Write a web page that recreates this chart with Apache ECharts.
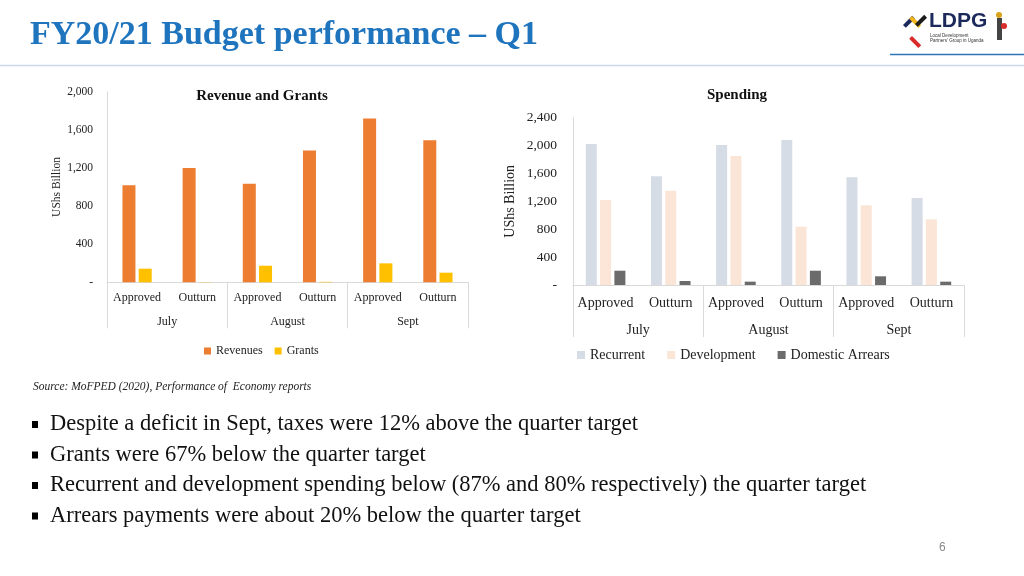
<!DOCTYPE html>
<html>
<head>
<meta charset="utf-8">
<script src="https://cdn.jsdelivr.net/npm/echarts@6/dist/echarts.min.js"></script>
<style>
html,body{margin:0;padding:0;background:#fff;}
#c{width:1024px;height:576px;}
</style>
</head>
<body>
<div id="c"></div>
<script>
// ---- Data ----
const subCategories = ['Approved','Outturn','Approved','Outturn','Approved','Outturn'];
const months = ['July','August','Sept'];
const revenues = [1018, 1200, 1035, 1382, 1718, 1491];
const grants = [143, 2, 174, 5, 199, 101];
const recurrent = [2023, 1559, 2008, 2080, 1545, 1248];
const development = [1219, 1353, 1851, 837, 1143, 942];
const arrears = [205, 57, 48, 205, 125, 48];
const leftTicks = {min:0, max:2000, interval:400};
const rightTicks = {min:0, max:2400, interval:400};
const bullets = [
  'Despite a deficit in Sept, taxes were 12% above the quarter target',
  'Grants were 67% below the quarter target',
  'Recurrent and development spending below (87% and 80% respectively) the quarter target',
  'Arrears payments were about 20% below the quarter target'
];

const SERIF = '"Liberation Serif","DejaVu Serif",serif';
const axisGray = '#D9D9D9';
const fmt = v => v === 0 ? '-' : v.toLocaleString('en-US');

const chart = echarts.init(document.getElementById('c'));

function yAx(grid, t, nameGap, fs, nfs, margin) {
  return {
    gridIndex: grid, type:'value', min:t.min, max:t.max, interval:t.interval,
    name:'UShs Billion', nameLocation:'middle', nameGap:nameGap, nameRotate:90,
    nameTextStyle:{fontFamily:SERIF, fontSize:nfs, color:'#222'},
    axisLine:{show:true, lineStyle:{color:axisGray}},
    axisTick:{show:false}, splitLine:{show:false},
    axisLabel:{formatter:fmt, fontFamily:SERIF, fontSize:fs, color:'#222', margin:margin}
  };
}
function xSub(grid, fs, margin) {
  return {
    gridIndex:grid, type:'category', data:subCategories, position:'bottom',
    axisLine:{show:true, lineStyle:{color:axisGray}},
    axisTick:{show:false},
    axisLabel:{fontFamily:SERIF, fontSize:fs, color:'#222', margin:margin, interval:0}
  };
}
function xMonth(grid, fs, tickLen, margin) {
  return {
    gridIndex:grid, type:'category', data:months, position:'bottom', offset:0,
    axisLine:{show:false},
    axisTick:{show:true, length:tickLen, lineStyle:{color:axisGray}},
    axisLabel:{fontFamily:SERIF, fontSize:fs, color:'#222', margin:margin, interval:0}
  };
}

const bulletGraphics = [];
bullets.forEach((b, i) => {
  const y = 426 + i * 30.5;
  bulletGraphics.push({type:'rect', shape:{x:32, y:y-5, width:6, height:7}, style:{fill:'#000'}});
  bulletGraphics.push({type:'text', left:50, top:y-13, style:{text:b, font:'22.5px ' + SERIF, fill:'#111'}});
});

const option = {
  backgroundColor:'#fff',
  animation:false,
  title:[
    {text:'Revenue and Grants', left:257, top:84, textAlign:'center',
     textStyle:{fontFamily:SERIF, fontSize:15, fontWeight:'bold', color:'#111'}},
    {text:'Spending', left:732, top:83, textAlign:'center',
     textStyle:{fontFamily:SERIF, fontSize:15, fontWeight:'bold', color:'#111'}}
  ],
  legend:[
    {data:['Revenues','Grants'], left:199, top:340, itemWidth:7, itemHeight:7, itemGap:12,
     icon:'rect', textStyle:{fontFamily:SERIF, fontSize:12, color:'#222'}},
    {data:['Recurrent','Development','Domestic Arrears'], left:572, top:343, itemWidth:8, itemHeight:8, itemGap:22,
     icon:'rect', textStyle:{fontFamily:SERIF, fontSize:14, color:'#222'}}
  ],
  grid:[
    {left:107, right:1024-468, top:91.7, bottom:576-282.3},
    {left:573, right:1024-964, top:117.7, bottom:576-285}
  ],
  xAxis:[
    xSub(0, 12, 10),
    xMonth(0, 12, 46, 34),
    xSub(1, 14, 11),
    xMonth(1, 14, 52, 38)
  ],
  yAxis:[
    yAx(0, leftTicks, 44, 11.5, 11.5, 14),
    yAx(1, rightTicks, 56, 13.5, 14, 16)
  ],
  series:[
    {name:'Revenues', type:'bar', xAxisIndex:0, yAxisIndex:0, data:revenues, barWidth:13, barGap:'25%', itemStyle:{color:'#ED7D31'}},
    {name:'Grants', type:'bar', xAxisIndex:0, yAxisIndex:0, data:grants, barWidth:13, barGap:'25%', itemStyle:{color:'#FFC000'}},
    {name:'Recurrent', type:'bar', xAxisIndex:2, yAxisIndex:1, data:recurrent, barWidth:11, barGap:'30%', itemStyle:{color:'#D6DCE5'}},
    {name:'Development', type:'bar', xAxisIndex:2, yAxisIndex:1, data:development, barWidth:11, barGap:'30%', itemStyle:{color:'#FBE5D6'}},
    {name:'Domestic Arrears', type:'bar', xAxisIndex:2, yAxisIndex:1, data:arrears, barWidth:11, barGap:'30%', itemStyle:{color:'#6B6B6B'}}
  ],
  graphic:[
    {type:'text', left:30, top:18, style:{text:'FY20/21 Budget performance – Q1', font:'bold 34px ' + SERIF, fill:'#1F74BE'}},
    {type:'line', shape:{x1:0, y1:65.5, x2:1024, y2:65.5}, style:{stroke:'#C9D6E6', lineWidth:1.5}},
    {type:'line', shape:{x1:890, y1:54.5, x2:1024, y2:54.5}, style:{stroke:'#2E75B6', lineWidth:1.5}},
    // logo
    {type:'rect', shape:{x:0, y:0, width:13, height:4}, x:903, y:25, rotation:Math.PI/4, style:{fill:'#1B2A5A'}},
    {type:'rect', shape:{x:0, y:0, width:13, height:4}, x:912, y:16, rotation:-Math.PI/4, style:{fill:'#F2B61B'}},
    {type:'rect', shape:{x:0, y:0, width:13, height:4}, x:912, y:36, rotation:-Math.PI/4, style:{fill:'#D92B2B'}},
    {type:'rect', shape:{x:0, y:0, width:13, height:4}, x:915, y:24, rotation:Math.PI/4, style:{fill:'#1B1B1B'}},
    {type:'text', left:929, top:11, style:{text:'LDPG', font:'bold 21px "Liberation Sans",sans-serif', fill:'#1B2A5A'}},
    {type:'text', left:930, top:33, style:{text:'Local Development\nPartners\u2019 Group in Uganda', font:'4.5px "Liberation Sans",sans-serif', fill:'#333', lineHeight:5}},
    {type:'rect', shape:{x:997, y:18, width:5, height:22}, style:{fill:'#444'}},
    {type:'circle', shape:{cx:999, cy:15, r:3}, style:{fill:'#D9A21B'}},
    {type:'circle', shape:{cx:1004, cy:26, r:3}, style:{fill:'#D92B2B'}},
    {type:'text', left:33, top:381, style:{text:'Source: MoFPED (2020), Performance of  Economy reports', font:'italic 11.5px ' + SERIF, fill:'#222'}},
    ...bulletGraphics,
    {type:'text', left:939, top:542, style:{text:'6', font:'12px "Liberation Sans",sans-serif', fill:'#888'}}
  ]
};
chart.setOption(option);
</script>
</body>
</html>
